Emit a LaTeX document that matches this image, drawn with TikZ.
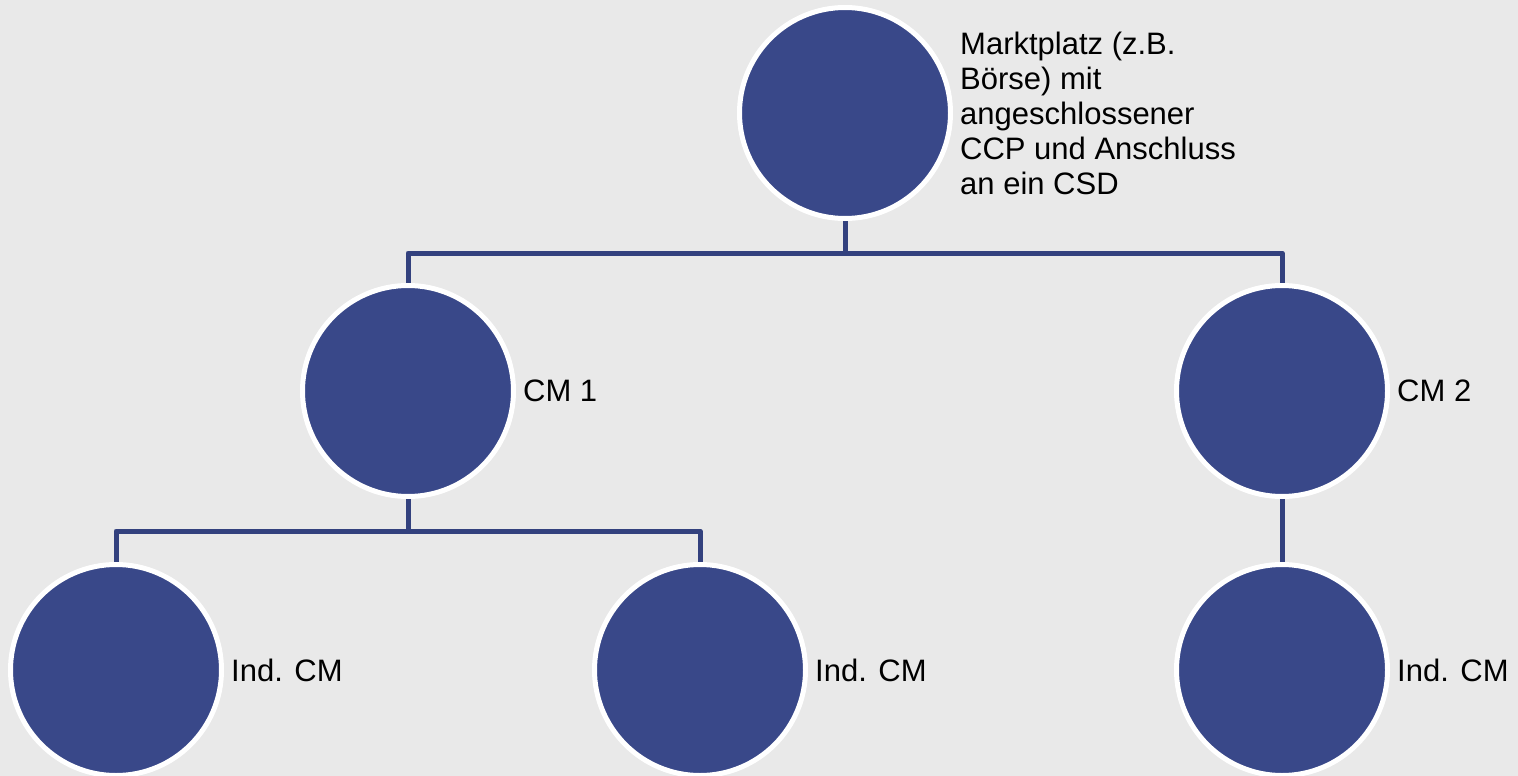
\documentclass[tikz,border=0pt]{standalone}
\usepackage{fontspec}
\setmainfont{Liberation Sans}
\usepackage{xcolor}
\usepackage{tikz}
\usetikzlibrary{positioning, backgrounds}
\definecolor{bgGrey}{HTML}{E9E9E9}
\definecolor{nodeBlue}{HTML}{394889}
\definecolor{lineBlue}{HTML}{33417E}
\tikzstyle{party} = [circle, fill=nodeBlue, draw=white, line width=5pt, minimum size=211pt, inner sep=0pt]
\tikzstyle{tag} = [font=\fontsize{31}{35}\selectfont, align=left, inner sep=3pt]
\tikzstyle{link} = [draw=lineBlue, line width=5pt, line join=round]

\begin{document}
\begin{tikzpicture}[x=1pt, y=-1pt]
        \useasboundingbox (0,0) rectangle (1518,776);
        \begin{scope}[on background layer]
        \fill[bgGrey] (0,0) rectangle (1518,776);
        \end{scope}

        % Parties
        \node[party] (market) at (845,113) {};
        \node[party] (cm1) at (408,391) {};
        \node[party] (cm2) at (1282,391) {};
        \node[party] (ind1) at (116,670) {};
        \node[party] (ind2) at (700,670) {};
        \node[party] (ind3) at (1282,670) {};

        % Labels
        \node[tag, right=4pt of market] (marketTag) {Marktplatz (z.B.\\ Börse) mit\\ angeschlossener\\ CCP und Anschluss\\ an ein CSD};
        \node[tag, right=4pt of cm1] (cm1Tag) {CM 1};
        \node[tag, right=4pt of cm2] (cm2Tag) {CM 2};
        \node[tag, right=4pt of ind1] (ind1Tag) {Ind. CM};
        \node[tag, right=4pt of ind2] (ind2Tag) {Ind. CM};
        \node[tag, right=4pt of ind3] (ind3Tag) {Ind. CM};

        % Links
        \begin{scope}[on background layer]
        \coordinate (bus1) at (845,253);
        \coordinate (bus2) at (408,531);
        \draw[link] (market) -- (bus1);
        \draw[link] (cm1) |- (bus1) -| (cm2);
        \draw[link] (cm1) -- (bus2);
        \draw[link] (ind1) |- (bus2) -| (ind2);
        \draw[link] (cm2) -- (ind3);
        \end{scope}
\end{tikzpicture}
\end{document}
